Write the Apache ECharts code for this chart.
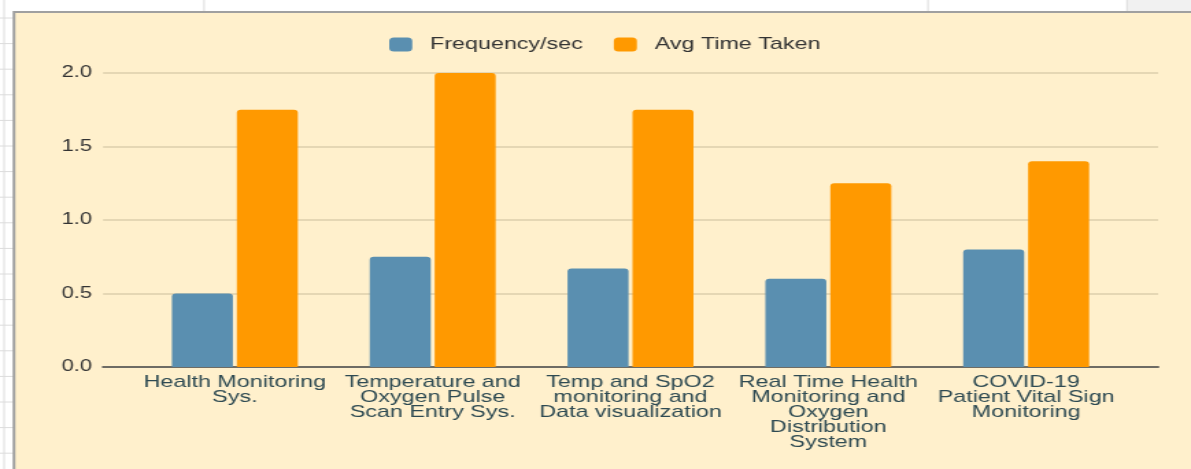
<!DOCTYPE html>
<html>
<head>
<meta charset="utf-8">
<script src="https://cdn.jsdelivr.net/npm/echarts@6/dist/echarts.min.js"></script>
<style>
  html, body { margin: 0; padding: 0; background: #fff; overflow: hidden; }
  /* the reference screenshot is stretched sideways, so the chart is too */
  #chart { width: 869px; height: 469px; transform: scaleX(1.3705); transform-origin: 0 0; }
</style>
</head>
<body>
<div id="chart"></div>
<script>
const categories = [
  'Health Monitoring\nSys.',
  'Temperature and\nOxygen Pulse\nScan Entry Sys.',
  'Temp and SpO2\nmonitoring and\nData visualization',
  'Real Time Health\nMonitoring and\nOxygen\nDistribution\nSystem',
  'COVID-19\nPatient Vital Sign\nMonitoring'
]
const seriesNames = ['Frequency/sec', 'Avg Time Taken']
const frequency = [0.5, 0.75, 0.67, 0.6, 0.8]
const avgTime = [1.75, 2.0, 1.75, 1.25, 1.4]
const yTicks = { min: 0, max: 2, interval: 0.5 }

const font = 'Liberation Sans, Arial, sans-serif'
const chart = echarts.init(document.getElementById('chart'))

// spreadsheet cell lines around the chart box
const sheetLines = []
for (let y = 18; y < 469; y += 25.6) {
  sheetLines.push({ type: 'line', shape: { x1: 0, y1: y, x2: 10, y2: y }, style: { stroke: '#dcdcdc', lineWidth: 1 } })
}
;[148.9, 677.1, 822.3].forEach(x => {
  sheetLines.push({ type: 'line', shape: { x1: x, y1: 0, x2: x, y2: 11 }, style: { stroke: '#dcdcdc', lineWidth: 1 } })
})

const option = {
  backgroundColor: '#ffffff',
  color: ['#5a8fb0', '#ff9900'],
  animation: false,
  graphic: [
    { type: 'rect', z: -10, shape: { x: 822.3, y: 0, width: 50, height: 12 }, style: { fill: '#f1f1f1' } },
    { type: 'line', z: -10, shape: { x1: 3, y1: 0, x2: 3, y2: 469 }, style: { stroke: '#dcdcdc', lineWidth: 1 } },
    ...sheetLines.map(l => Object.assign(l, { z: -10 })),
    { type: 'rect', z: -10, shape: { x: 10.2, y: 12, width: 870, height: 470 }, style: { fill: '#fff0cc', stroke: '#a0a0a0', lineWidth: 2 } }
  ],
  legend: {
    data: seriesNames,
    left: 279,
    top: 31,
    icon: 'roundRect',
    itemWidth: 16.8,
    itemHeight: 14,
    itemGap: 22.6,
    textStyle: {
      fontFamily: font,
      fontSize: 17,
      color: '#333333',
      padding: [0, 0, 0, 8]
    }
  },
  grid: [
    { left: 75.2, right: 24, top: 73, bottom: 102 },
    { left: 99.2, right: 48.1, top: 73, bottom: 102 }
  ],
  xAxis: [
    {
      gridIndex: 0,
      type: 'value',
      min: 0,
      max: 1,
      axisLine: { show: true, lineStyle: { color: '#6e6c64', width: 2 } },
      axisTick: { show: false },
      axisLabel: { show: false },
      splitLine: { show: false }
    },
    {
      gridIndex: 1,
      type: 'category',
      data: categories,
      axisLine: { show: false },
      axisTick: { show: false },
      axisLabel: {
        margin: 8,
        fontFamily: font,
        fontSize: 17,
        lineHeight: 15,
        color: '#2e4a52',
        interval: 0
      }
    }
  ],
  yAxis: [
    {
      gridIndex: 0,
      type: 'value',
      min: yTicks.min,
      max: yTicks.max,
      interval: yTicks.interval,
      axisLine: { show: false },
      axisTick: { show: false },
      axisLabel: {
        margin: 8,
        fontFamily: font,
        fontSize: 16,
        color: '#333333',
        formatter: v => v.toFixed(1)
      },
      splitLine: { lineStyle: { color: '#dccfac', width: 1.5 } }
    },
    {
      gridIndex: 1,
      type: 'value',
      min: yTicks.min,
      max: yTicks.max,
      interval: yTicks.interval,
      show: false,
      splitLine: { show: false }
    }
  ],
  series: [
    {
      name: seriesNames[0],
      type: 'bar',
      xAxisIndex: 1,
      yAxisIndex: 1,
      data: frequency,
      barWidth: 44.5,
      barGap: '6.5%',
      itemStyle: { borderRadius: [3, 3, 0, 0] }
    },
    {
      name: seriesNames[1],
      type: 'bar',
      xAxisIndex: 1,
      yAxisIndex: 1,
      data: avgTime,
      barWidth: 44.5,
      barGap: '6.5%',
      itemStyle: { borderRadius: [3, 3, 0, 0] }
    }
  ]
}

chart.setOption(option)
</script>
</body>
</html>
